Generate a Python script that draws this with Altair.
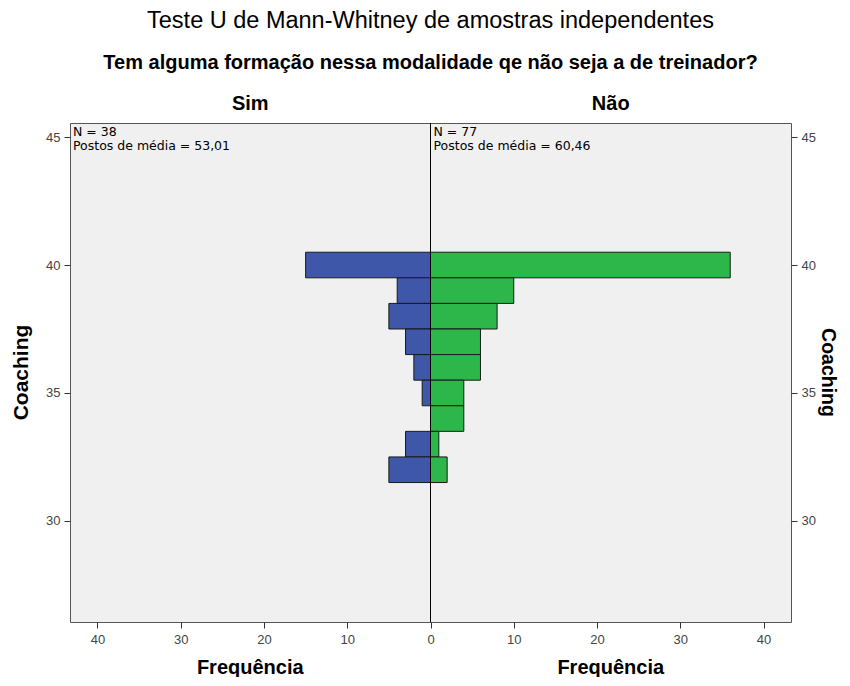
import altair as alt
import pandas as pd

# ---- data ----
coaching = [40, 39, 38, 37, 36, 35, 34, 33, 32]
sim_freq = [15, 4, 5, 3, 2, 1, 0, 3, 5]
nao_freq = [36, 10, 8, 6, 6, 4, 4, 1, 2]

groups = ["Sim", "Não"]
group_colors = ["#3F57A8", "#2DB74A"]
sim_info = ["N = 38", "Postos de média = 53,01"]
nao_info = ["N = 77", "Postos de média = 60,46"]

x_ticks = [-40, -30, -20, -10, 0, 10, 20, 30, 40]
y_ticks = [30, 35, 40, 45]

title_text = "Teste U de Mann-Whitney de amostras independentes"
subtitle_text = "Tem alguma formação nessa modalidade qe não seja a de treinador?"
y_title = "Coaching"
x_title = "Frequência"

# ---- build table ----
rows = []
for c, s, n in zip(coaching, sim_freq, nao_freq):
    if s > 0:
        rows.append({"grupo": "Sim", "coaching": c, "freq": s, "signed": -s})
    if n > 0:
        rows.append({"grupo": "Não", "coaching": c, "freq": n, "signed": n})
df = pd.DataFrame(rows)

FONT = "Liberation Sans"
W, H = 721, 499
XMAX = 43.3
YMIN, YMAX = 26.05, 45.55

xscale = alt.Scale(domain=[-XMAX, XMAX], nice=False, zero=False)
yscale = alt.Scale(domain=[YMIN, YMAX], nice=False, zero=False)

axis_common = dict(
    grid=False, domain=False, tickColor="#333", tickSize=6,
    labelColor="#444", labelFontSize=13, labelFont=FONT, title=None,
)

bars = (
    alt.Chart(df)
    .transform_calculate(y0="datum.coaching - 0.5", y1="datum.coaching + 0.5", x0="0")
    .mark_bar(stroke="#1a1a1a", strokeWidth=1, opacity=1)
    .encode(
        x=alt.X("signed:Q", scale=xscale,
                axis=alt.Axis(values=x_ticks, labelExpr="abs(datum.value)",
                              labelPadding=5, **axis_common)),
        x2="x0:Q",
        y=alt.Y("y0:Q", scale=yscale,
                axis=alt.Axis(values=y_ticks, orient="left", labelPadding=4, **axis_common)),
        y2="y1:Q",
        color=alt.Color("grupo:N", scale=alt.Scale(domain=groups, range=group_colors), legend=None),
    )
)

right_axis = (
    alt.Chart(df)
    .mark_point(opacity=0)
    .encode(
        y=alt.Y("coaching:Q", scale=yscale,
                axis=alt.Axis(values=y_ticks, orient="right", labelPadding=4, **axis_common)),
    )
)

zero_rule = (
    alt.Chart(alt.Data(values=[{}]))
    .mark_rule(color="black", strokeWidth=1)
    .encode(x=alt.value(W / 2))
)


def label(txt, x, y, size, weight="normal", angle=0, align="center", baseline="middle",
          color="black", line_height=None, font=FONT):
    kw = dict(text=txt, fontSize=size, fontWeight=weight, angle=angle, align=align,
              baseline=baseline, font=font, color=color)
    if line_height is not None:
        kw["lineHeight"] = line_height
    return (
        alt.Chart(alt.Data(values=[{}]))
        .mark_text(**kw)
        .encode(x=alt.value(x), y=alt.value(y))
    )


layers = [
    bars,
    zero_rule,
    right_axis,
    label(sim_info, 3, 3, 12.5, align="left", baseline="top", line_height=14, font="DejaVu Sans"),
    label(nao_info, W / 2 + 3, 3, 12.5, align="left", baseline="top", line_height=14, font="DejaVu Sans"),
    label(title_text, W / 2, -102, 23.5),
    label(subtitle_text, W / 2, -60, 20, weight="bold"),
    label(groups[0], W / 4, -19, 20, weight="bold"),
    label(groups[1], 3 * W / 4, -19, 20, weight="bold"),
    label(x_title, W / 4, H + 46, 20, weight="bold"),
    label(x_title, 3 * W / 4, H + 46, 20, weight="bold"),
    label(y_title, -48, H / 2, 21, weight="bold", angle=270),
    label(y_title, W + 37, H / 2, 19.5, weight="bold", angle=90),
]

chart = (
    alt.layer(*layers)
    .resolve_axis(y="independent")
    .properties(
        width=W, height=H,
        autosize=alt.AutoSizeParams(type="none"),
        padding={"left": 62, "top": 115, "right": 51, "bottom": 55},
        background="white",
    )
    .configure_view(stroke="#555", strokeWidth=1, fill="#F0F0F0")
)

chart.save("out.html", embed_options={"renderer": "svg", "actions": False})
